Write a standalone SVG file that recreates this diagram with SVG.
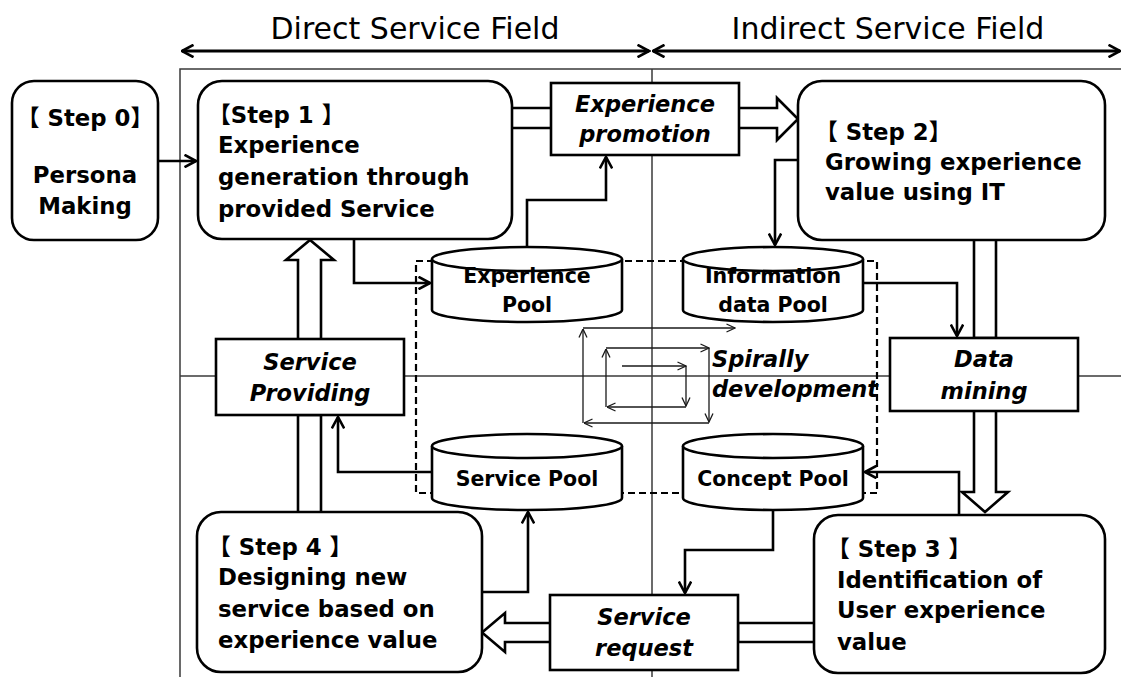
<svg xmlns="http://www.w3.org/2000/svg" width="1121" height="677" viewBox="0 0 1121 677">
  <style>
    .frame { stroke: #3a3a3a; stroke-width: 1.5; fill: none; }
    .box { fill: #fff; stroke: #000; stroke-width: 2.6; }
    .conn { fill: none; stroke: #000; stroke-width: 2.6; stroke-linejoin: miter; }
    .hollow { fill: #fff; stroke: #000; stroke-width: 2.6; stroke-linejoin: miter; }
    .spiral { fill: none; stroke: #1a1a1a; stroke-width: 1.3; }
    .cyl { fill: #fff; stroke: #000; stroke-width: 2.6; }
    .title { font-family: "DejaVu Sans", "Noto Sans CJK JP", sans-serif; font-size: 30px; fill: #000; }
    .t { font-family: "DejaVu Sans", "Noto Sans CJK JP", sans-serif; font-size: 22.8px; font-weight: bold; fill: #000; }
    .ti { font-family: "DejaVu Sans", "Noto Sans CJK JP", sans-serif; font-size: 22.5px; font-weight: bold; font-style: italic; fill: #000; }
    .tc { font-family: "DejaVu Sans", "Noto Sans CJK JP", sans-serif; font-size: 20.5px; font-weight: bold; fill: #000; }
    .mid { text-anchor: middle; }
  </style>
  <defs>
    <marker id="arr" viewBox="0 0 14 14" markerWidth="14" markerHeight="14" refX="12.5" refY="7" orient="auto-start-reverse" markerUnits="userSpaceOnUse">
      <path d="M1,0.8 L12.5,7 L1,13.2" fill="none" stroke="#000" stroke-width="2.6"/>
    </marker>
    <marker id="arrs" viewBox="0 0 10 10" markerWidth="10" markerHeight="10" refX="9.5" refY="5" orient="auto" markerUnits="userSpaceOnUse">
      <path d="M1,1 L9.5,5 L1,9" fill="none" stroke="#1a1a1a" stroke-width="1.3"/>
    </marker>
  </defs>

  <!-- field headings -->
  <g id="fields">
    <text class="title" x="415" y="39" text-anchor="middle">Direct Service Field</text>
    <text class="title" x="888" y="39" text-anchor="middle">Indirect Service Field</text>
    <path d="M182,51 H649" fill="none" stroke="#000" stroke-width="3" marker-start="url(#arr)" marker-end="url(#arr)"/>
    <path d="M653,51 H1120" fill="none" stroke="#000" stroke-width="3" marker-start="url(#arr)" marker-end="url(#arr)"/>
  </g>

  <!-- quadrant frame -->
  <g id="frame">
    <path class="frame" d="M180,677 V69 H1121"/>
    <path class="frame" d="M652,69 V677"/>
    <path class="frame" d="M180,376 H1121"/>
  </g>

  <!-- pool area -->
  <rect id="pool-area" x="416" y="261" width="461" height="232" fill="none" stroke="#000" stroke-width="2.2" stroke-dasharray="7,4"/>

  <!-- spiral -->
  <g id="spiral">
    <path class="spiral" d="M622,366 H686" marker-end="url(#arrs)"/>
    <path class="spiral" d="M686,366 V406" marker-end="url(#arrs)"/>
    <path class="spiral" d="M686,407 H607" marker-end="url(#arrs)"/>
    <path class="spiral" d="M606,407 V349" marker-end="url(#arrs)"/>
    <path class="spiral" d="M606,348 H709" marker-end="url(#arrs)"/>
    <path class="spiral" d="M709,348 V422" marker-end="url(#arrs)"/>
    <path class="spiral" d="M709,423 H584" marker-end="url(#arrs)"/>
    <path class="spiral" d="M583,423 V329" marker-end="url(#arrs)"/>
    <path class="spiral" d="M583,328 H735" marker-end="url(#arrs)"/>
    <text class="ti" x="712" y="367">Spirally</text>
    <text class="ti" x="712" y="397">development</text>
  </g>

  <!-- connectors -->
  <g id="connectors">
    <path class="conn" d="M158,161 H196" marker-end="url(#arr)"/>
    <path class="conn" d="M354,239 V283 H430" marker-end="url(#arr)"/>
    <path class="conn" d="M527,247 V200 H606 V157" marker-end="url(#arr)"/>
    <path class="conn" d="M798,160 H775 V245" marker-end="url(#arr)"/>
    <path class="conn" d="M863,283 H957 V336" marker-end="url(#arr)"/>
    <path class="conn" d="M959,515 V472 H865" marker-end="url(#arr)"/>
    <path class="conn" d="M773,510 V550 H685 V593" marker-end="url(#arr)"/>
    <path class="conn" d="M482,592 H528 V512" marker-end="url(#arr)"/>
    <path class="conn" d="M432,472 H338 V417" marker-end="url(#arr)"/>

    <path class="hollow" d="M512,108 H777 V98 L798,119 L777,140 V128 H512"/>
    <path class="hollow" d="M974,240 V338 H996 V240"/>
    <path class="hollow" d="M974,411 V492 H962 L985,512 L1008,492 H996 V411"/>
    <path class="hollow" d="M814,623 H738 V642 H814"/>
    <path class="hollow" d="M550,623 H505 V613 L482,632.5 L505,652 V642 H550"/>
    <path class="hollow" d="M298,512 V415 H321 V512"/>
    <path class="hollow" d="M298,339 V260 H286 L310,240 L334,260 H321 V339"/>
  </g>

  <!-- pools -->
  <g id="experience-pool">
    <path class="cyl" d="M432,259 V310 A95,12 0 0 0 622,310 V259 A95,12 0 0 0 432,259 Z"/>
    <path class="cyl" d="M432,259 A95,12 0 0 0 622,259" fill="none"/>
    <text class="tc mid" x="527" y="283">Experience</text>
    <text class="tc mid" x="527" y="312">Pool</text>
  </g>
  <g id="information-pool">
    <path class="cyl" d="M683,259 V310 A90,12 0 0 0 863,310 V259 A90,12 0 0 0 683,259 Z"/>
    <path class="cyl" d="M683,259 A90,12 0 0 0 863,259" fill="none"/>
    <text class="tc mid" x="773" y="283">Information</text>
    <text class="tc mid" x="773" y="312">data Pool</text>
  </g>
  <g id="service-pool">
    <path class="cyl" d="M432,446 V498 A95,12 0 0 0 622,498 V446 A95,12 0 0 0 432,446 Z"/>
    <path class="cyl" d="M432,446 A95,12 0 0 0 622,446" fill="none"/>
    <text class="tc mid" x="527" y="486">Service Pool</text>
  </g>
  <g id="concept-pool">
    <path class="cyl" d="M683,446 V498 A90,12 0 0 0 863,498 V446 A90,12 0 0 0 683,446 Z"/>
    <path class="cyl" d="M683,446 A90,12 0 0 0 863,446" fill="none"/>
    <text class="tc mid" x="773" y="486">Concept Pool</text>
  </g>

  <!-- steps -->
  <g id="step0">
    <rect class="box" x="12" y="81" width="146" height="159" rx="22"/>
    <text class="t mid" x="85" y="126">【 Step 0】</text>
    <text class="t mid" x="85" y="183">Persona</text>
    <text class="t mid" x="85" y="214">Making</text>
  </g>
  <g id="step1">
    <rect class="box" x="198" y="81" width="314" height="158" rx="24"/>
    <text class="t" x="208" y="123">【Step 1 】</text>
    <text class="t" x="218" y="153">Experience</text>
    <text class="t" x="218" y="185">generation through</text>
    <text class="t" x="218" y="217">provided Service</text>
  </g>
  <g id="step2">
    <rect class="box" x="798" y="81" width="307" height="159" rx="24"/>
    <text class="t" x="815" y="140">【 Step 2】</text>
    <text class="t" x="825" y="170">Growing experience</text>
    <text class="t" x="825" y="200">value using IT</text>
  </g>
  <g id="step3">
    <rect class="box" x="814" y="515" width="291" height="158" rx="24"/>
    <text class="t" x="827" y="557">【 Step 3 】</text>
    <text class="t" x="837" y="588">Identification of</text>
    <text class="t" x="837" y="618">User experience</text>
    <text class="t" x="837" y="650">value</text>
  </g>
  <g id="step4">
    <rect class="box" x="197" y="512" width="285" height="160" rx="24"/>
    <text class="t" x="208" y="555">【 Step 4 】</text>
    <text class="t" x="218" y="585">Designing new</text>
    <text class="t" x="218" y="617">service based on</text>
    <text class="t" x="218" y="648">experience value</text>
  </g>

  <!-- activities -->
  <g id="experience-promotion">
    <rect class="box" x="551" y="83" width="188" height="72"/>
    <text class="ti mid" x="645" y="112">Experience</text>
    <text class="ti mid" x="645" y="142">promotion</text>
  </g>
  <g id="data-mining">
    <rect class="box" x="890" y="338" width="188" height="73"/>
    <text class="ti mid" x="984" y="367">Data</text>
    <text class="ti mid" x="984" y="399">mining</text>
  </g>
  <g id="service-request">
    <rect class="box" x="550" y="595" width="188" height="75"/>
    <text class="ti mid" x="644" y="625">Service</text>
    <text class="ti mid" x="644" y="656">request</text>
  </g>
  <g id="service-providing">
    <rect class="box" x="216" y="339" width="188" height="76"/>
    <text class="ti mid" x="310" y="370">Service</text>
    <text class="ti mid" x="310" y="401">Providing</text>
  </g>
</svg>
